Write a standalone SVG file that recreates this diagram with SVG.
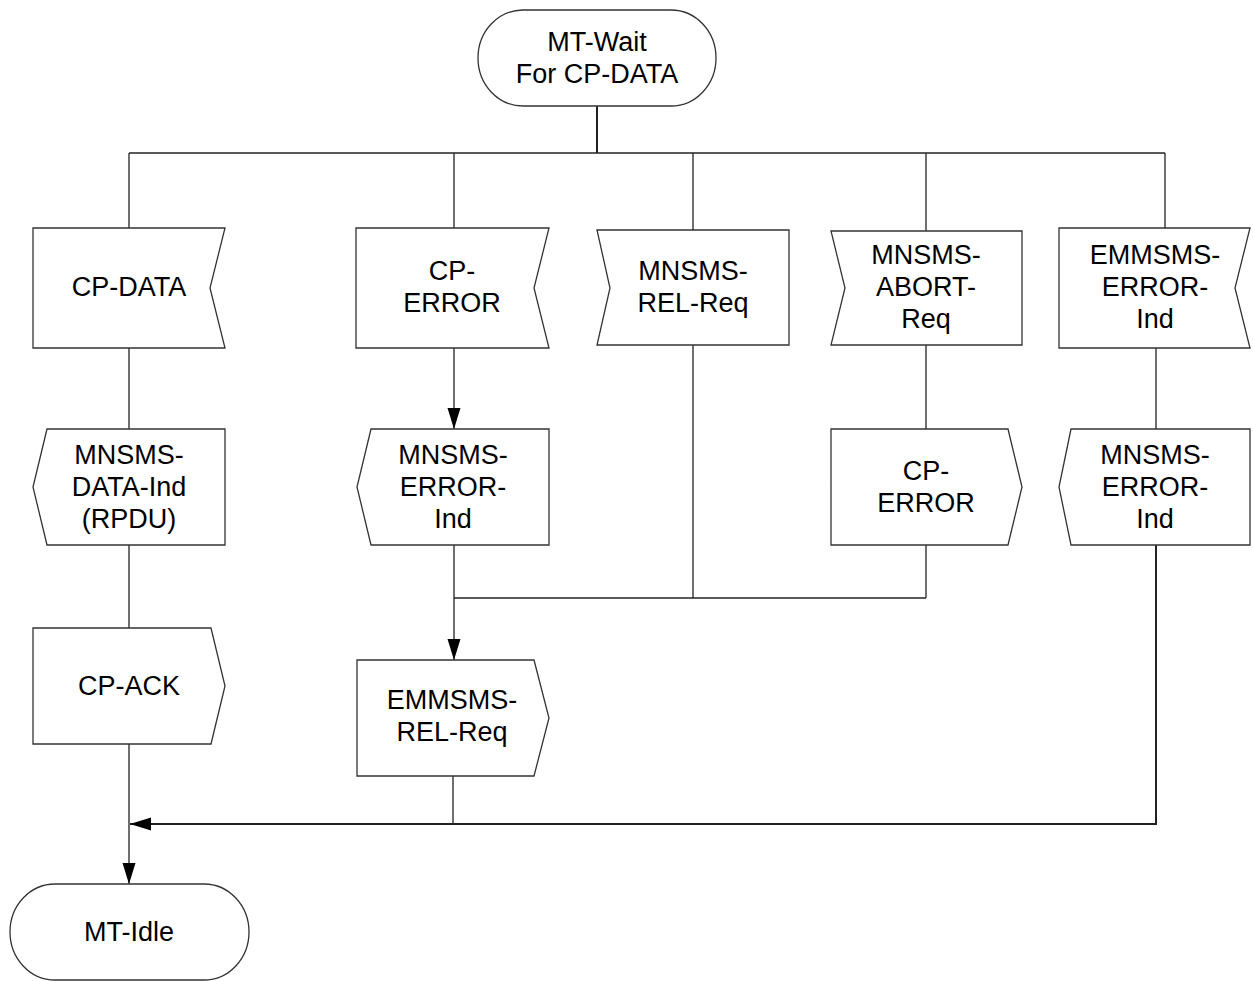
<svg xmlns="http://www.w3.org/2000/svg" width="1253" height="981" viewBox="0 0 1253 981">
<style>
.shape{fill:#fff;stroke:#333;stroke-width:1.3}
.lbl{font-family:"Liberation Sans",Arial,sans-serif;font-size:27px;text-anchor:middle;fill:#000}
.con{fill:none;stroke:#222;stroke-width:1.3}
.thick{stroke-width:2}
</style>
<defs>
<marker id="arr" markerUnits="userSpaceOnUse" markerWidth="22" markerHeight="14" refX="21" refY="6.5" orient="auto">
<path d="M0,0 L21,6.5 L0,13 Z" fill="#000"/>
</marker>
</defs>
<rect width="1253" height="981" fill="#fff"/>
<g id="connectors">
<path class="con thick" d="M597,106 V153"/>
<path class="con" d="M129,153 H1165"/>
<path class="con" d="M129,153 V228"/>
<path class="con" d="M454,153 V228"/>
<path class="con" d="M693,153 V230"/>
<path class="con" d="M926,153 V231"/>
<path class="con" d="M1165,153 V228"/>
<path class="con" d="M129,348 V429"/>
<path class="con" d="M129,545 V628"/>
<path class="con" d="M129,744 V884" marker-end="url(#arr)"/>
<path class="con" d="M454,348 V429" marker-end="url(#arr)"/>
<path class="con" d="M454,545 V660" marker-end="url(#arr)"/>
<path class="con" d="M454,598 H926"/>
<path class="con" d="M693,345 V598"/>
<path class="con" d="M926,345 V429"/>
<path class="con" d="M926,545 V598"/>
<path class="con" d="M1156,348 V429"/>
<path class="con thick" d="M1156,545 V824 H130" marker-end="url(#arr)"/>
<path class="con" d="M453,776 V824"/>
</g>
<g id="mt-wait">
<rect class="shape" x="478" y="10" width="238" height="96" rx="45" ry="48"/>
<text class="lbl" x="597" y="51">MT-Wait</text>
<text class="lbl" x="597" y="83">For CP-DATA</text>
</g>
<g id="cp-data">
<path class="shape" d="M33,228 H225 L210,288 L225,348 H33 Z"/>
<text class="lbl" x="129" y="296">CP-DATA</text>
</g>
<g id="cp-error-in">
<path class="shape" d="M356,228 H549 L534,288 L549,348 H356 Z"/>
<text class="lbl" x="452" y="280">CP-</text>
<text class="lbl" x="452" y="312">ERROR</text>
</g>
<g id="mnsms-rel-req">
<path class="shape" d="M597,230 H789 V345 H597 L610,288 Z"/>
<text class="lbl" x="693" y="280">MNSMS-</text>
<text class="lbl" x="693" y="312">REL-Req</text>
</g>
<g id="mnsms-abort-req">
<path class="shape" d="M831,231 H1022 V345 H831 L845,288 Z"/>
<text class="lbl" x="926" y="264">MNSMS-</text>
<text class="lbl" x="926" y="296">ABORT-</text>
<text class="lbl" x="926" y="328">Req</text>
</g>
<g id="emmsms-error-ind">
<path class="shape" d="M1059,228 H1250 L1235,288 L1250,348 H1059 Z"/>
<text class="lbl" x="1155" y="264">EMMSMS-</text>
<text class="lbl" x="1155" y="296">ERROR-</text>
<text class="lbl" x="1155" y="328">Ind</text>
</g>
<g id="mnsms-data-ind">
<path class="shape" d="M47,429 H225 V545 H47 L33,487 Z"/>
<text class="lbl" x="129" y="464">MNSMS-</text>
<text class="lbl" x="129" y="496">DATA-Ind</text>
<text class="lbl" x="129" y="528">(RPDU)</text>
</g>
<g id="mnsms-error-ind-mid">
<path class="shape" d="M371,429 H549 V545 H371 L357,487 Z"/>
<text class="lbl" x="453" y="464">MNSMS-</text>
<text class="lbl" x="453" y="496">ERROR-</text>
<text class="lbl" x="453" y="528">Ind</text>
</g>
<g id="cp-error-out">
<path class="shape" d="M831,429 H1008 L1022,487 L1008,545 H831 Z"/>
<text class="lbl" x="926" y="480">CP-</text>
<text class="lbl" x="926" y="512">ERROR</text>
</g>
<g id="mnsms-error-ind-right">
<path class="shape" d="M1071,429 H1250 V545 H1071 L1059,487 Z"/>
<text class="lbl" x="1155" y="464">MNSMS-</text>
<text class="lbl" x="1155" y="496">ERROR-</text>
<text class="lbl" x="1155" y="528">Ind</text>
</g>
<g id="cp-ack">
<path class="shape" d="M33,628 H211 L225,686 L211,744 H33 Z"/>
<text class="lbl" x="129" y="695">CP-ACK</text>
</g>
<g id="emmsms-rel-req">
<path class="shape" d="M357,660 H534 L549,718 L534,776 H357 Z"/>
<text class="lbl" x="452" y="709">EMMSMS-</text>
<text class="lbl" x="452" y="741">REL-Req</text>
</g>
<g id="mt-idle">
<rect class="shape" x="10" y="884" width="239" height="96" rx="45" ry="48"/>
<text class="lbl" x="129" y="941">MT-Idle</text>
</g>
</svg>
